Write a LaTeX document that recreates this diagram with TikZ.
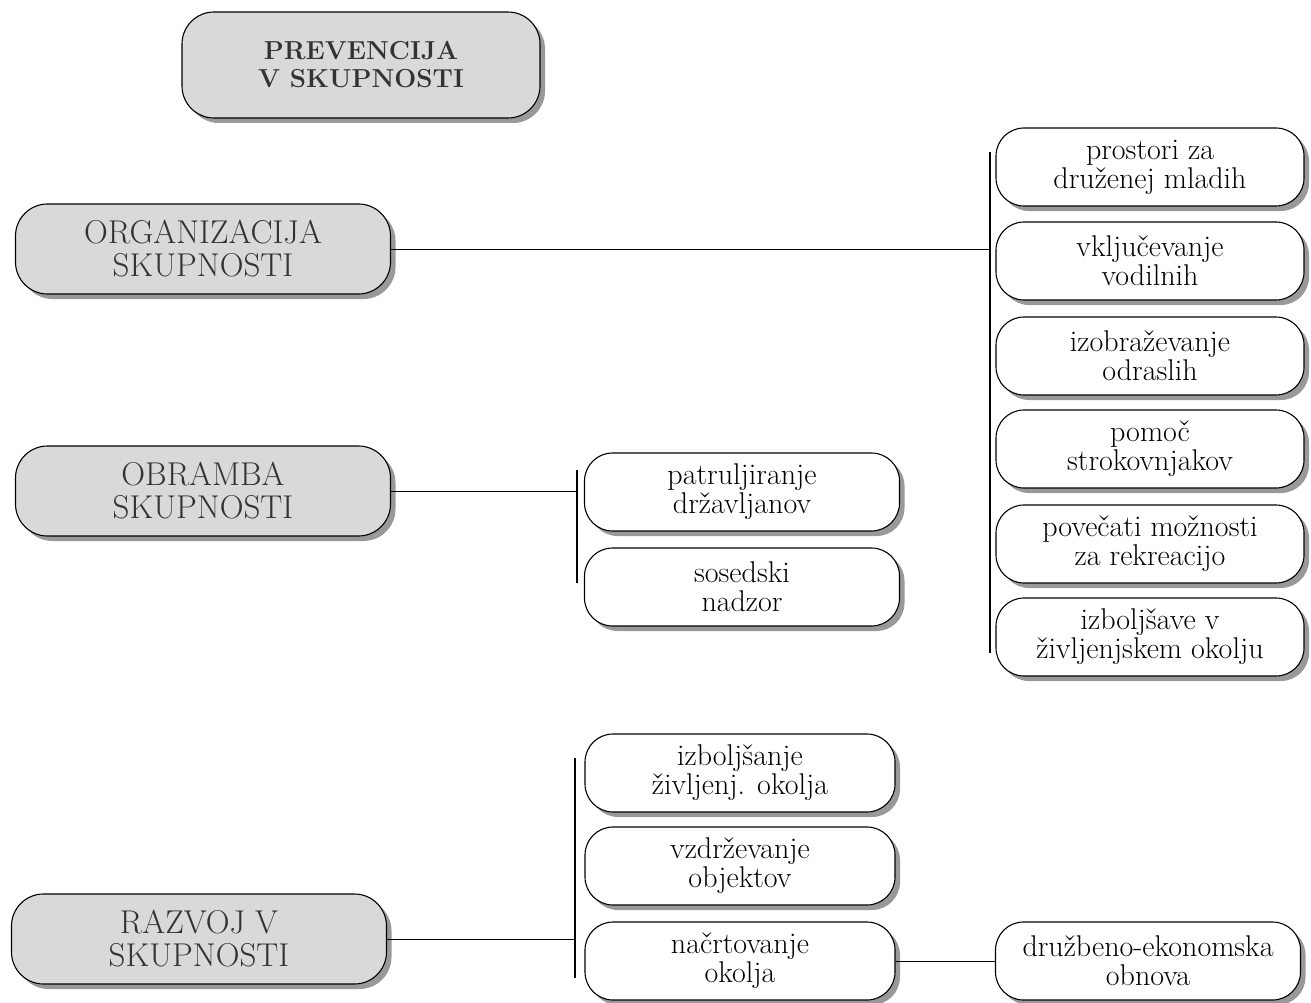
\documentclass[tikz,border=0pt]{standalone}
\usepackage{fontspec}
\usetikzlibrary{shadows}
\definecolor{boxgrey}{gray}{0.85}
\definecolor{shadowgrey}{gray}{0.6}
\tikzset{
  base/.style={draw=black, line width=1.1pt, rounded corners=28pt, align=center,
    drop shadow={shadow xshift=5pt, shadow yshift=-5pt, fill=shadowgrey, opacity=1}},
  gbox/.style={base, fill=boxgrey, minimum width=375pt, minimum height=90pt,
    rounded corners=32pt, text=black!80, font=\fontsize{33}{33}\selectfont},
  topbox/.style={gbox, minimum width=358pt, minimum height=106pt,
    font=\bfseries\fontsize{26}{28}\selectfont},
  wbox/.style={base, fill=white, minimum width=308pt, minimum height=78pt,
    font=\fontsize{30}{29}\selectfont},
  link/.style={draw=black, line width=1pt},
  bar/.style={draw=black, line width=1.6pt},
}
\begin{document}
\begin{tikzpicture}[x=1pt,y=-1pt]
\useasboundingbox (0,0) rectangle (1311,1003);

% main boxes
\node[topbox] (top) at (361,65) {PREVENCIJA\\V SKUPNOSTI};
\node[gbox] (org) at (203,249) {ORGANIZACIJA\\SKUPNOSTI};
\node[gbox] (obr) at (203,491) {OBRAMBA\\SKUPNOSTI};
\node[gbox] (raz) at (199,939) {RAZVOJ V\\SKUPNOSTI};

% organizacija branch
\node[wbox] (r1) at (1150,167) {prostori za\\druženej mladih};
\node[wbox] (r2) at (1150,261) {vključevanje\\vodilnih};
\node[wbox] (r3) at (1150,356) {izobraževanje\\odraslih};
\node[wbox] (r4) at (1150,449) {pomoč\\strokovnjakov};
\node[wbox] (r5) at (1150,544) {povečati možnosti\\za rekreacijo};
\node[wbox] (r6) at (1150,637) {izboljšave v\\življenjskem okolju};
\coordinate (b1t) at (990,152);
\coordinate (b1b) at (990,653);
\coordinate (j1) at (990,249);
\draw[bar] (b1t) -- (b1b);
\draw[link] (org.east) -- (j1);

% obramba branch
\node[wbox, minimum width=315pt] (o1) at (742,492) {patruljiranje\\državljanov};
\node[wbox, minimum width=315pt] (o2) at (742,587) {sosedski\\nadzor};
\coordinate (b2t) at (577,470);
\coordinate (b2b) at (577,583);
\coordinate (j2) at (577,491);
\draw[bar] (b2t) -- (b2b);
\draw[link] (obr.east) -- (j2);

% razvoj branch
\node[wbox, minimum width=310pt] (z1) at (740,773) {izboljšanje\\življenj. okolja};
\node[wbox, minimum width=310pt] (z2) at (740,866) {vzdrževanje\\objektov};
\node[wbox, minimum width=310pt] (z3) at (740,961) {načrtovanje\\okolja};
\node[wbox, minimum width=305pt] (d1) at (1148,961) {družbeno-ekonomska\\obnova};
\coordinate (b3t) at (575,758);
\coordinate (b3b) at (575,978);
\coordinate (j3) at (575,939);
\draw[bar] (b3t) -- (b3b);
\draw[link] (raz.east) -- (j3);
\draw[link] (z3.east) -- (d1.west);
\end{tikzpicture}
\end{document}
